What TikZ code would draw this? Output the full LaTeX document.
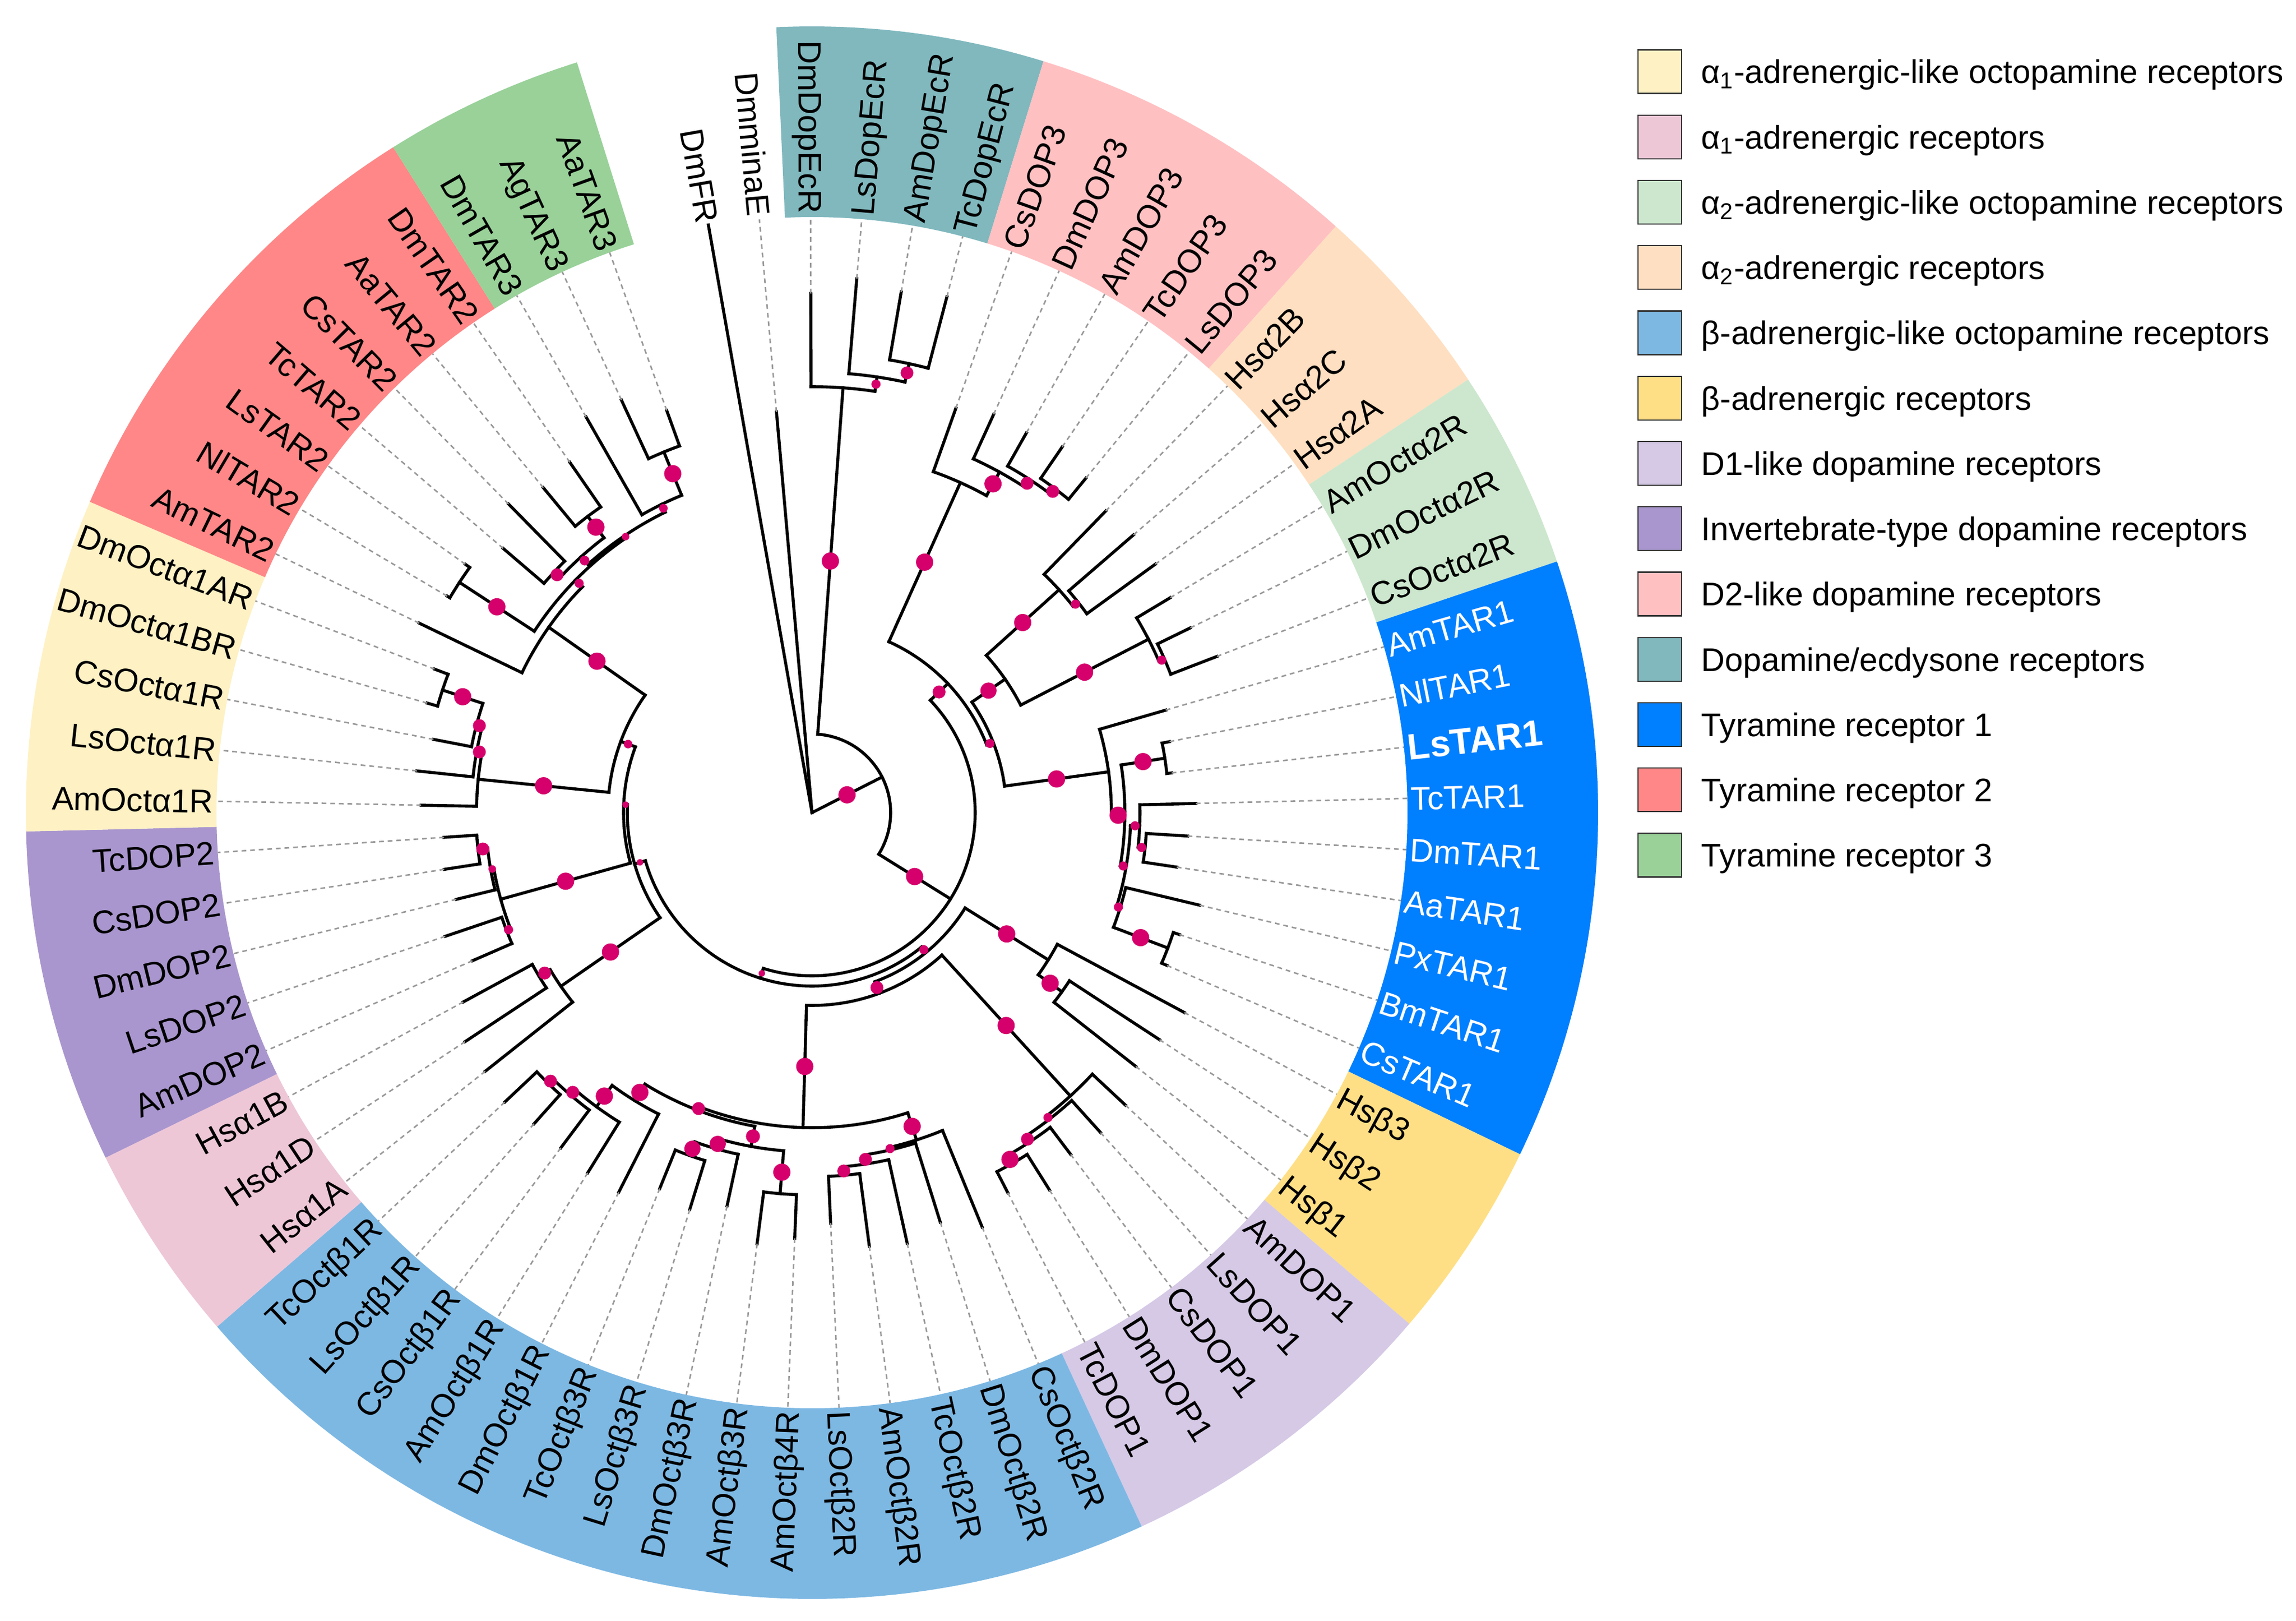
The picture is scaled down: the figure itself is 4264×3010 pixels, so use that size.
\documentclass[tikz,border=0pt]{standalone}
\usepackage{fontspec}
\setmainfont{Liberation Sans}
\pgfdeclarelayer{fg}
\pgfsetlayers{main,fg}
\definecolor{cAoneL}{HTML}{FEF1C4}
\definecolor{cAone}{HTML}{EEC7D7}
\definecolor{cAtwoL}{HTML}{CCE7CD}
\definecolor{cAtwo}{HTML}{FFDFC1}
\definecolor{cBetaL}{HTML}{7DB8E3}
\definecolor{cBeta}{HTML}{FFDF85}
\definecolor{cDone}{HTML}{D5C9E6}
\definecolor{cInv}{HTML}{A996CE}
\definecolor{cDtwo}{HTML}{FFC0C2}
\definecolor{cDopEc}{HTML}{80B8BE}
\definecolor{cTone}{HTML}{007FFF}
\definecolor{cTtwo}{HTML}{FF8787}
\definecolor{cTthree}{HTML}{99D199}
\definecolor{dotpink}{RGB}{214,0,108}
\newcommand\Nd[6]{%
  \draw[br] ({tipa(#1)}:#2) -- ({tipa(#1)}:#3);
  \draw[br] ({tipa(#4)}:#3) arc[start angle={tipa(#4)},end angle={tipa(#5)},radius=#3];
  \begin{pgfonlayer}{fg}\fill[dotpink] ({tipa(#1)}:{(#2+#3)/2}) circle[radius=#6];\end{pgfonlayer}}
\newcommand\Tip[3]{%
  \draw[br] ({tipa(#1)}:#2) -- ({tipa(#1)}:#3);
  \draw[dl] ({tipa(#1)}:#3) -- ({tipa(#1)}:1106);}
\newcommand\Sec[3]{%
  \fill[#1] ({tipa(#2-0.5)}:1106) arc[start angle={tipa(#2-0.5)},end angle={tipa(#3+0.5)},radius=1106]
    -- ({tipa(#3+0.5)}:1460) arc[start angle={tipa(#3+0.5)},end angle={tipa(#2-0.5)},radius=1460] -- cycle;}
\newcommand\LR[3][]{\node[lab,anchor=west,rotate={tipa(#2)},#1] (t#2) at ({tipa(#2)}:1112) {#3};}
\newcommand\LL[3][]{\node[lab,anchor=east,rotate={tipa(#2)+180},#1] (t#2) at ({tipa(#2)}:1112) {#3};}
\newcommand\Leg[3]{%
  \fill[#2,draw=black!80,line width=0.6pt] (1534,{1376-121.25*#1-40.5}) rectangle (1615,{1376-121.25*#1+40.5});
  \node[lab,anchor=west] (leg#1) at (1651,{1376-121.25*#1}) {#3};}
\begin{document}
\begin{tikzpicture}[x=0.25pt,y=0.25pt,
  declare function={tipa(\t)=100-(\t-1)*4.9315068;},
  br/.style={line width=1.4pt,line cap=rect},
  dl/.style={line width=0.7pt,draw=black!40,dash pattern=on 2.2pt off 1.8pt},
  lab/.style={font=\fontsize{15.2}{18}\selectfont,inner sep=0pt,text height=10.9pt,text depth=0pt}]
\useasboundingbox (-1508,-1501) rectangle (2756,1509);
% coloured sectors
\Sec{cDopEc}{3}{6}
\Sec{cDtwo}{7}{11}
\Sec{cAtwo}{12}{14}
\Sec{cAtwoL}{15}{17}
\Sec{cTone}{18}{26}
\Sec{cBeta}{27}{29}
\Sec{cDone}{30}{34}
\Sec{cBetaL}{35}{49}
\Sec{cAone}{50}{52}
\Sec{cInv}{53}{57}
\Sec{cAoneL}{58}{62}
\Sec{cTtwo}{63}{69}
\Sec{cTthree}{70}{72}
% root
\draw[br] (0,0) -- ({tipa(1)}:1108);
\Tip{2}{0}{747}
\Nd{15.8115}{0}{146}{3.875}{27.748}{16}
% dopamine/ecdysone
\Nd{3.875}{146}{791}{3}{4.75}{16}
\Nd{4.75}{791}{818}{4}{5.5}{8.5}
\Nd{5.5}{818}{853}{5}{6}{12}
\Tip{3}{791}{964}\Tip{4}{818}{995}\Tip{5}{853}{981}\Tip{6}{853}{990}
% F
\Nd{27.748}{146}{303}{12.4531}{43.043}{16}
\Nd{12.4531}{303}{348}{7.9375}{16.9688}{12}
\Nd{7.9375}{348}{672}{7}{8.875}{16}
\Nd{8.875}{672}{722}{8}{9.75}{16}
\Nd{9.75}{722}{739}{9}{10.5}{12}
\Nd{10.5}{739}{752}{10}{11}{12}
\Tip{7}{672}{797}\Tip{8}{722}{813}\Tip{9}{739}{810}\Tip{10}{752}{823}\Tip{11}{752}{803}
\Nd{16.9688}{348}{361}{14.25}{19.6875}{8.5}
\Nd{14.25}{361}{436}{12.75}{15.75}{15}
\Nd{12.75}{436}{618}{12}{13.5}{16}
\Nd{13.5}{618}{630}{13}{14}{8.5}
\Nd{15.75}{436}{703}{15}{16.5}{16}
\Nd{16.5}{703}{714}{16}{17}{8.5}
\Tip{12}{618}{782}\Tip{13}{630}{789}\Tip{14}{630}{787}\Tip{15}{703}{776}\Tip{16}{714}{782}\Tip{17}{714}{806}
\Nd{19.6875}{361}{556}{18}{21.375}{16}
\Nd{21.375}{556}{581}{19.5}{23.25}{16}
\Nd{19.5}{581}{663}{19}{20}{16}
\Nd{23.25}{581}{592}{21.75}{24.75}{8.5}
\Nd{21.75}{592}{609}{21}{22.5}{8.5}
\Nd{22.5}{609}{622}{22}{23}{8.5}
\Nd{24.75}{592}{599}{24}{25.5}{8.5}
\Nd{25.5}{599}{707}{25}{26}{16}
\Tip{18}{556}{684}\Tip{19}{663}{677}\Tip{20}{663}{672}\Tip{21}{609}{713}\Tip{22}{622}{699}
\Tip{23}{622}{685}\Tip{24}{599}{740}\Tip{25}{707}{719}\Tip{26}{707}{718}
% J
\Nd{43.043}{303}{322}{31.5742}{54.5117}{6}
\Nd{31.5742}{322}{335}{27.75}{35.3984}{8.5}
\Nd{27.75}{335}{517}{27}{28.5}{16}
\Nd{28.5}{517}{571}{28}{29}{16}
\Tip{27}{517}{785}\Tip{28}{571}{771}\Tip{29}{571}{764}
\Nd{35.3984}{335}{358}{30.9375}{39.8594}{12}
\Nd{30.9375}{358}{712}{30}{31.875}{16}
\Nd{31.875}{712}{720}{31}{32.75}{8.5}
\Nd{32.75}{720}{733}{32}{33.5}{12}
\Nd{33.5}{733}{750}{33}{34}{16}
\Tip{30}{712}{796}\Tip{31}{720}{800}\Tip{32}{733}{796}\Tip{33}{750}{828}\Tip{34}{750}{794}
\Nd{39.8594}{358}{585}{35.9375}{43.7813}{16}
\Nd{35.9375}{585}{638}{35}{36.875}{16}
\Nd{36.875}{638}{643}{36}{37.75}{8.5}
\Nd{37.75}{643}{660}{37}{38.5}{12}
\Nd{38.5}{660}{676}{38}{39}{12}
\Tip{35}{638}{832}\Tip{36}{643}{797}\Tip{37}{660}{819}\Tip{38}{676}{812}\Tip{39}{676}{763}
\Nd{43.7813}{585}{592}{41.625}{45.9375}{12}
\Nd{41.625}{592}{630}{40.5}{42.75}{13}
\Nd{40.5}{630}{710}{40}{41}{16}
\Nd{42.75}{630}{649}{42}{43.5}{15}
\Nd{43.5}{649}{676}{43}{44}{15}
\Nd{45.9375}{592}{628}{45}{46.875}{16}
\Nd{46.875}{628}{677}{46}{47.75}{16}
\Nd{47.75}{677}{690}{47}{48.5}{12}
\Nd{48.5}{690}{702}{48}{49}{12}
\Tip{40}{710}{791}\Tip{41}{710}{807}\Tip{42}{649}{747}\Tip{43}{676}{771}\Tip{44}{676}{753}
\Tip{45}{628}{791}\Tip{46}{677}{788}\Tip{47}{690}{778}\Tip{48}{702}{775}\Tip{49}{702}{784}
\Nd{54.5117}{322}{343}{50.75}{58.2734}{6}
\Nd{50.75}{343}{567}{50}{51.5}{16}
\Nd{51.5}{567}{591}{51}{52}{12}
\Tip{50}{567}{774}\Tip{51}{591}{772}\Tip{52}{591}{737}
\Nd{58.2734}{343}{350}{54.625}{61.9219}{6}
\Nd{54.625}{350}{600}{53.5}{55.75}{16}
\Nd{53.5}{600}{608}{53}{54}{8.5}
\Nd{55.75}{600}{606}{55}{56.5}{7}
\Nd{56.5}{606}{624}{56}{57}{12}
\Tip{53}{608}{688}\Tip{54}{608}{719}\Tip{55}{606}{680}\Tip{56}{624}{691}\Tip{57}{624}{685}
\Nd{61.9219}{350}{379}{58.9375}{64.9063}{8}
\Nd{58.9375}{379}{623}{58}{59.875}{16}
\Nd{59.875}{623}{633}{59}{60.75}{12}
\Nd{60.75}{633}{644}{60}{61.5}{12}
\Nd{61.5}{644}{723}{61}{62}{16}
\Tip{58}{623}{726}\Tip{59}{633}{738}\Tip{60}{644}{716}\Tip{61}{723}{743}\Tip{62}{723}{750}
\Nd{64.9063}{379}{598}{63}{66.8125}{16}
\Nd{66.8125}{598}{616}{64.5}{69.125}{8.5}
\Nd{64.5}{616}{782}{64}{65}{16}
\Nd{69.125}{616}{621}{67.5}{70.75}{7}
\Nd{67.5}{621}{640}{66.5}{68.5}{9}
\Nd{66.5}{640}{655}{66}{67}{12}
\Nd{68.5}{640}{690}{68}{69}{16}
\Nd{70.75}{621}{637}{70}{71.5}{8}
\Nd{71.5}{637}{724}{71}{72}{16}
\Tip{63}{598}{810}\Tip{64}{782}{788}\Tip{65}{782}{792}\Tip{66}{655}{755}\Tip{67}{655}{804}
\Tip{68}{690}{783}\Tip{69}{690}{791}\Tip{70}{637}{846}\Tip{71}{724}{844}\Tip{72}{724}{794}
% labels
\LL{1}{DmFR}\LL{2}{DmminaE}\LL{3}{DmDopEcR}
\LR{4}{LsDopEcR}\LR{5}{AmDopEcR}\LR{6}{TcDopEcR}
\LR{7}{CsDOP3}\LR{8}{DmDOP3}\LR{9}{AmDOP3}\LR{10}{TcDOP3}\LR{11}{LsDOP3}
\LR{12}{Hsα2B}\LR{13}{Hsα2C}\LR{14}{Hsα2A}
\LR{15}{AmOctα2R}\LR{16}{DmOctα2R}\LR{17}{CsOctα2R}
\LR[white]{18}{AmTAR1}\LR[white]{19}{NlTAR1}
\LR[white,font=\fontsize{17}{20}\selectfont\bfseries,text height=12.2pt]{20}{LsTAR1}
\LR[white]{21}{TcTAR1}\LR[white]{22}{DmTAR1}\LR[white]{23}{AaTAR1}
\LR[white]{24}{PxTAR1}\LR[white]{25}{BmTAR1}\LR[white]{26}{CsTAR1}
\LR{27}{Hsβ3}\LR{28}{Hsβ2}\LR{29}{Hsβ1}
\LR{30}{AmDOP1}\LR{31}{LsDOP1}\LR{32}{CsDOP1}\LR{33}{DmDOP1}\LR{34}{TcDOP1}
\LR{35}{CsOctβ2R}\LR{36}{DmOctβ2R}\LR{37}{TcOctβ2R}\LR{38}{AmOctβ2R}\LR{39}{LsOctβ2R}
\LL{40}{AmOctβ4R}\LL{41}{AmOctβ3R}\LL{42}{DmOctβ3R}\LL{43}{LsOctβ3R}\LL{44}{TcOctβ3R}
\LL{45}{DmOctβ1R}\LL{46}{AmOctβ1R}\LL{47}{CsOctβ1R}\LL{48}{LsOctβ1R}\LL{49}{TcOctβ1R}
\LL{50}{Hsα1A}\LL{51}{Hsα1D}\LL{52}{Hsα1B}
\LL{53}{AmDOP2}\LL{54}{LsDOP2}\LL{55}{DmDOP2}\LL{56}{CsDOP2}\LL{57}{TcDOP2}
\LL{58}{AmOctα1R}\LL{59}{LsOctα1R}\LL{60}{CsOctα1R}\LL{61}{DmOctα1BR}\LL{62}{DmOctα1AR}
\LL{63}{AmTAR2}\LL{64}{NlTAR2}\LL{65}{LsTAR2}\LL{66}{TcTAR2}\LL{67}{CsTAR2}\LL{68}{AaTAR2}\LL{69}{DmTAR2}
\LL{70}{DmTAR3}\LL{71}{AgTAR3}\LL{72}{AaTAR3}
% legend
\Leg{0}{cAoneL}{α\textsubscript{1}-adrenergic-like octopamine receptors}
\Leg{1}{cAone}{α\textsubscript{1}-adrenergic receptors}
\Leg{2}{cAtwoL}{α\textsubscript{2}-adrenergic-like octopamine receptors}
\Leg{3}{cAtwo}{α\textsubscript{2}-adrenergic receptors}
\Leg{4}{cBetaL}{β-adrenergic-like octopamine receptors}
\Leg{5}{cBeta}{β-adrenergic receptors}
\Leg{6}{cDone}{D1-like dopamine receptors}
\Leg{7}{cInv}{Invertebrate-type dopamine receptors}
\Leg{8}{cDtwo}{D2-like dopamine receptors}
\Leg{9}{cDopEc}{Dopamine/ecdysone receptors}
\Leg{10}{cTone}{Tyramine receptor 1}
\Leg{11}{cTtwo}{Tyramine receptor 2}
\Leg{12}{cTthree}{Tyramine receptor 3}
\end{tikzpicture}
\end{document}
